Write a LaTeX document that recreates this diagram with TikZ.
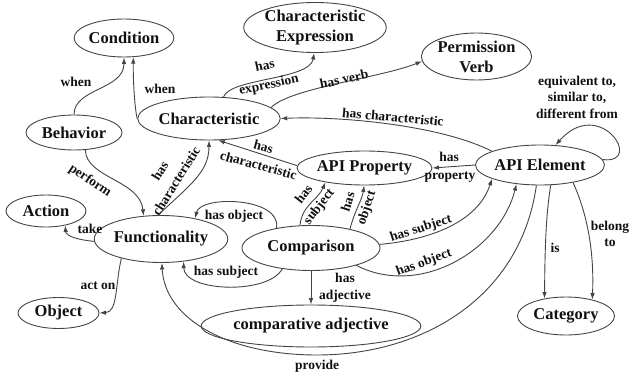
\documentclass[tikz,border=0pt]{standalone}
\usepackage{fontspec}
\setmainfont{Liberation Serif}
\usetikzlibrary{shapes.geometric,arrows.meta}
\definecolor{edgegray}{HTML}{444444}
\definecolor{txt}{HTML}{111111}
\begin{document}
\begin{tikzpicture}[x=1pt,y=-1pt,
  ent/.style={draw=edgegray, ellipse, line width=0.9pt, inner sep=0pt, text=txt,
    font=\fontsize{16.5}{20}\selectfont\bfseries, align=center},
  rel/.style={draw=edgegray, line width=0.9pt, -{Latex[length=6.5pt,width=4.5pt]}},
  lab/.style={font=\fontsize{13.5}{16.5}\selectfont\bfseries, text=txt, inner sep=0pt, align=center},
  lab2/.style={lab, font=\fontsize{13.5}{19}\selectfont\bfseries},
]
\useasboundingbox (0,0) rectangle (629,377);

% entities
\node[ent, minimum width=98pt, minimum height=38pt] (cond) at (124,38) {Condition};
\node[ent, minimum width=130pt, minimum height=50pt] (cexp) at (315,27.5) {Characteristic\\Expression};
\node[ent, minimum width=105pt, minimum height=47pt] (perm) at (476.5,56.5) {Permission\\Verb};
\node[ent, minimum width=120pt, minimum height=43pt] (char) at (209,118.5) {Characteristic};
\node[ent, minimum width=96pt, minimum height=35pt] (beh) at (74,132.5) {Behavior};
\node[ent, minimum width=115pt, minimum height=34pt] (apip) at (364.5,168) {API Property};
\node[ent, minimum width=124pt, minimum height=40pt] (apie) at (540,165) {API Element};
\node[ent, minimum width=80pt, minimum height=32pt] (act) at (46,211) {Action};
\node[ent, minimum width=111pt, minimum height=47pt] (func) at (161,239) {Functionality};
\node[ent, minimum width=138pt, minimum height=45pt] (comp) at (311,248) {Comparison};
\node[ent, minimum width=81pt, minimum height=31pt] (obj) at (58.5,313) {Object};
\node[ent, minimum width=186pt, minimum height=42pt] (cadj) at (311,326) {comparative adjective};
\node[ent, minimum width=97pt, minimum height=38pt] (cat) at (566,316) {Category};

% when
\draw[rel] (beh.90) .. controls (74,88) and (124,90) .. (cond.-90);
\node[lab] (l1) at (76,82) {when};
\draw[rel] (char.west) .. controls (136,116) and (133,90) .. (cond.-64);
\node[lab] (l2) at (160,89) {when};

% has expression / has verb
\draw[rel] (char.56) .. controls (230,78) and (310,80) .. (cexp.-92);
\node[lab2, rotate=12] (l3) at (267,76) {has\\expression};
\draw[rel] (char.10) .. controls (290,88) and (380,78) .. (perm.185);
\node[lab, rotate=12] (l4) at (344,79) {has verb};

% API Element -> Characteristic
\draw[rel] (apie.164) .. controls (440,125) and (340,116) .. (char.east);
\node[lab, rotate=-5] (l5) at (393,117) {has characteristic};

% self loop
\draw[rel] (apie.5) .. controls (645,165) and (600,95) .. (apie.52);
\node[lab] (l6) at (577,97) {equivalent to,\\similar to,\\different from};

% has property
\draw[rel] (apie.west) -- (apip.east);
\node[lab] (l7a) at (449,157) {has};
\node[lab] (l7b) at (450,177) {property};

% API Property -> Characteristic
\draw[rel] (apip.178) -- (char.-67);
\node[lab2, rotate=-15] (l8) at (261,156) {has\\characteristic};

% Functionality -> Characteristic
\draw[rel] (func.97) .. controls (190,185) and (209,172) .. (char.-90);
\node[lab2, rotate=58] (l9) at (168,176) {has\\characteristic};

% perform
\draw[rel] (beh.-57) .. controls (86,178) and (140,180) .. (func.127);
\node[lab, rotate=-34] (l10) at (90,181) {perform};

% take / act on
\draw[rel] (func.182) .. controls (78,240) and (66,236) .. (act.-37);
\node[lab] (l11) at (90,229) {take};
\draw[rel] (func.206) .. controls (115,285) and (118,312) .. (obj.east);
\node[lab] (l12) at (98,286) {act on};

% Comparison -> Functionality
\draw[rel] (comp.150) .. controls (282,197) and (200,195) .. (func.31);
\node[lab] (l13) at (234,216) {has object};
\draw[rel] (comp.216) .. controls (268,295) and (184,292) .. (func.-45);
\node[lab] (l14) at (226,272) {has subject};

% Comparison -> API Property
\draw[rel] (comp.116) .. controls (302,205) and (318,200) .. (apip.200);
\node[lab2, rotate=52] (l15) at (312,201) {has\\subject};
\draw[rel] (comp.26) .. controls (355,210) and (362,200) .. (apip.-91);
\node[lab2, rotate=72] (l16) at (358,205) {has\\object};

% Comparison -> API Element
\draw[rel] (comp.3) .. controls (430,240) and (478,222) .. (apie.196);
\node[lab, rotate=18] (l17) at (421,229) {has subject};
\draw[rel] (comp.-21) .. controls (420,298) and (500,250) .. (apie.219);
\node[lab, rotate=20] (l18) at (424,263) {has object};

% has adjective
\draw[rel] (comp.south) -- (cadj.north);
\node[lab] (l19) at (345,288) {has\\adjective};

% provide
\coordinate (pv) at (317,355);
\draw[rel] (apie.-100) .. controls (520,300) and (420,355) .. (pv) .. controls (230,355) and (165,320) .. (func.-88);
\node[lab] (l20) at (317,366) {provide};

% category
\draw[rel] (apie.-62) .. controls (545,220) and (545,260) .. (cat.141);
\node[lab] (l21) at (555,248) {is};
\draw[rel] (apie.-28) .. controls (590,220) and (594,260) .. (cat.32);
\node[lab] (l22) at (610,234) {belong\\to};
\end{tikzpicture}
\end{document}
